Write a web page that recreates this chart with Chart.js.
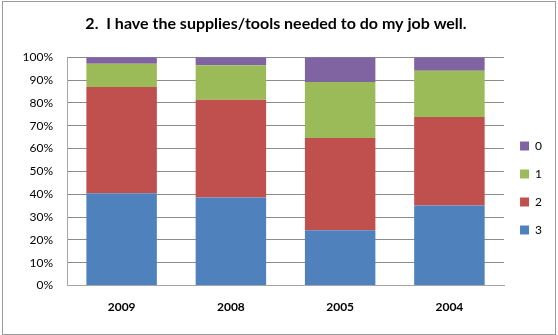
<!DOCTYPE html>
<html>
<head>
<meta charset="utf-8">
<script src="https://cdn.jsdelivr.net/npm/chart.js@4/dist/chart.umd.min.js"></script>
<style>
  html, body { margin: 0; padding: 0; background: #fff; }
  #wrap { position: relative; width: 558px; height: 335px; }
  #frame {
    position: absolute; left: 2px; top: 1px; width: 552px; height: 332px;
    border: 1px solid #9a9a9a; pointer-events: none;
  }
</style>
</head>
<body>
<div id="wrap">
  <canvas id="chart" width="558" height="335"></canvas>
  <div id="frame"></div>
</div>
<script>
/* ================================
   Data
================================ */
const years = ["2009", "2008", "2005", "2004"];

// share of responses per rating, in percent
const rating3 = [40.4, 38.6, 24.2, 35.1];
const rating2 = [46.5, 42.8, 40.4, 38.7];
const rating1 = [10.2, 15.1, 24.5, 20.3];
const rating0 = [2.9, 3.5, 10.9, 5.9];

const yTicks = [0, 10, 20, 30, 40, 50, 60, 70, 80, 90, 100];

/* ================================
   Render Chart
================================ */
const FONT = "Lato, 'Liberation Sans', sans-serif";

// the legend sits a bit lower than Chart.js centres it
const legendShift = {
  id: "legendShift",
  afterLayout(chart) {
    const lg = chart.legend;
    lg.top += 24;
    lg.bottom += 24;
  }
};

new Chart(document.getElementById("chart"), {
  type: "bar",
  data: {
    labels: years,
    datasets: [
      { label: "3", data: rating3, backgroundColor: "#4F81BD" },
      { label: "2", data: rating2, backgroundColor: "#C0504D" },
      { label: "1", data: rating1, backgroundColor: "#9BBB59" },
      { label: "0", data: rating0, backgroundColor: "#8064A2" }
    ]
  },
  plugins: [legendShift],
  options: {
    responsive: false,
    animation: false,
    layout: { padding: { left: 0, right: 6, top: 0, bottom: 7 } },
    datasets: {
      bar: { categoryPercentage: 1, barPercentage: 0.645, borderWidth: 0 }
    },
    plugins: {
      title: {
        display: true,
        text: "2.  I have the supplies/tools needed to do my job well.",
        color: "#000",
        font: { family: FONT, size: 16, weight: "bold" },
        padding: { top: 14, bottom: 24 }
      },
      legend: {
        position: "right",
        reverse: true,
        labels: {
          color: "#000",
          font: { family: FONT, size: 12 },
          boxWidth: 9,
          boxHeight: 9,
          padding: 16
        }
      },
      tooltip: { enabled: false }
    },
    scales: {
      x: {
        stacked: true,
        grid: { display: false, drawTicks: false },
        border: { color: "#a6a6a6" },
        ticks: {
          color: "#000",
          font: { family: FONT, size: 12, weight: "bold" },
          padding: 14
        }
      },
      y: {
        stacked: true,
        min: 0,
        max: 100,
        afterBuildTicks: axis => {
          axis.ticks = yTicks.map(v => ({ value: v }));
        },
        afterFit: axis => { axis.width = 67; },
        grid: { color: "#8c8c8c", drawTicks: false },
        border: { color: "#a6a6a6" },
        ticks: {
          color: "#000",
          font: { family: FONT, size: 12 },
          padding: 14,
          callback: v => v + "%"
        }
      }
    }
  }
});
</script>
</body>
</html>
